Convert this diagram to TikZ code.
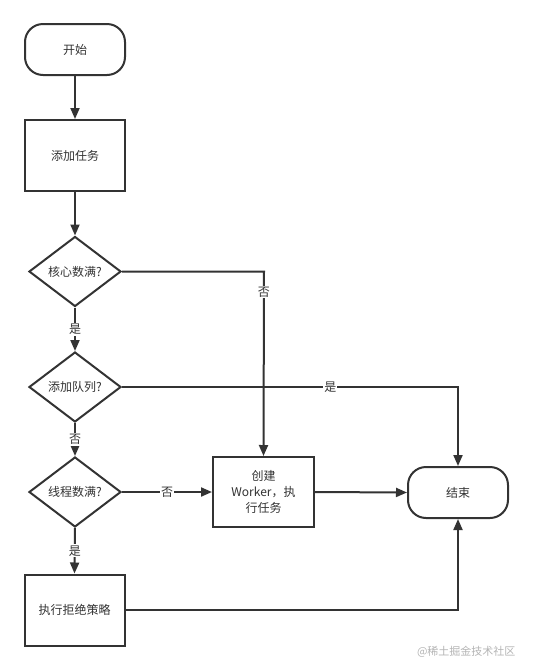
\documentclass[tikz,border=0pt]{standalone}
\usepackage{fontspec}
\setmainfont{Noto Sans CJK SC}
\usetikzlibrary{shapes.geometric,arrows.meta}
\definecolor{ln}{HTML}{333333}
\definecolor{wm}{HTML}{B4B4B4}
\begin{document}
\begin{tikzpicture}[x=1pt,y=-1pt,
  every node/.style={font=\fontsize{12pt}{16pt}\selectfont, text=ln},
  box/.style={draw=ln, line width=2pt, fill=white, minimum width=100pt, minimum height=71pt, inner sep=2pt, align=center},
  term/.style={draw=ln, line width=2pt, fill=white, rounded corners=18pt, minimum width=100pt, minimum height=51pt},
  dec/.style={draw=ln, line width=2pt, fill=white, diamond, minimum width=92pt, minimum height=70pt, inner sep=0pt},
  conn/.style={draw=ln, line width=2pt},
  arr/.style={conn, -{Triangle[length=11pt,width=9pt]}},
  lbl/.style={fill=white, inner sep=1pt},
]
\useasboundingbox (0,0) rectangle (533,670);
\node[term] (start) at (75,49.5) {开始};
\node[box] (task) at (75,155.5) {添加任务};
\node[dec] (d1) at (75,271.5) {核心数满?};
\node[dec] (d2) at (75,387) {添加队列?};
\node[dec] (d3) at (75,492) {线程数满?};
\node[box, minimum width=101pt, minimum height=70pt] (create) at (263.5,492) {创建\\Worker，执\\行任务};
\node[term] (end) at (458,492.5) {结束};
\node[box] (reject) at (74.5,610) {执行拒绝策略};
\coordinate (c1) at (264,271.5);
\coordinate (c2) at (458,387);
\coordinate (c3) at (458,610);

\draw[arr] (start) -- (task);
\draw[arr] (task) -- (d1);
\draw[arr] (d1.east) -- (c1) -- node[lbl, pos=0.11] {否} (create.north);
\draw[arr] (d2.east) -- node[lbl, pos=0.62] {是} (c2) -- (end.north);
\draw[arr] (d1.south) -- node[lbl] {是} (d2.north);
\draw[arr] (d2.south) -- node[lbl] {否} (d3.north);
\draw[arr] (d3.east) -- node[lbl] {否} (create.west);
\draw[arr] (create.east) -- (end.west);
\draw[arr] (d3.south) -- node[lbl] {是} (reject.north);
\draw[arr] (reject.east) -- (c3) -- (end.south);

\node[text=wm, font=\fontsize{11pt}{13pt}\selectfont, anchor=east] (wmk) at (519,652) {@稀土掘金技术社区};
\end{tikzpicture}
\end{document}
